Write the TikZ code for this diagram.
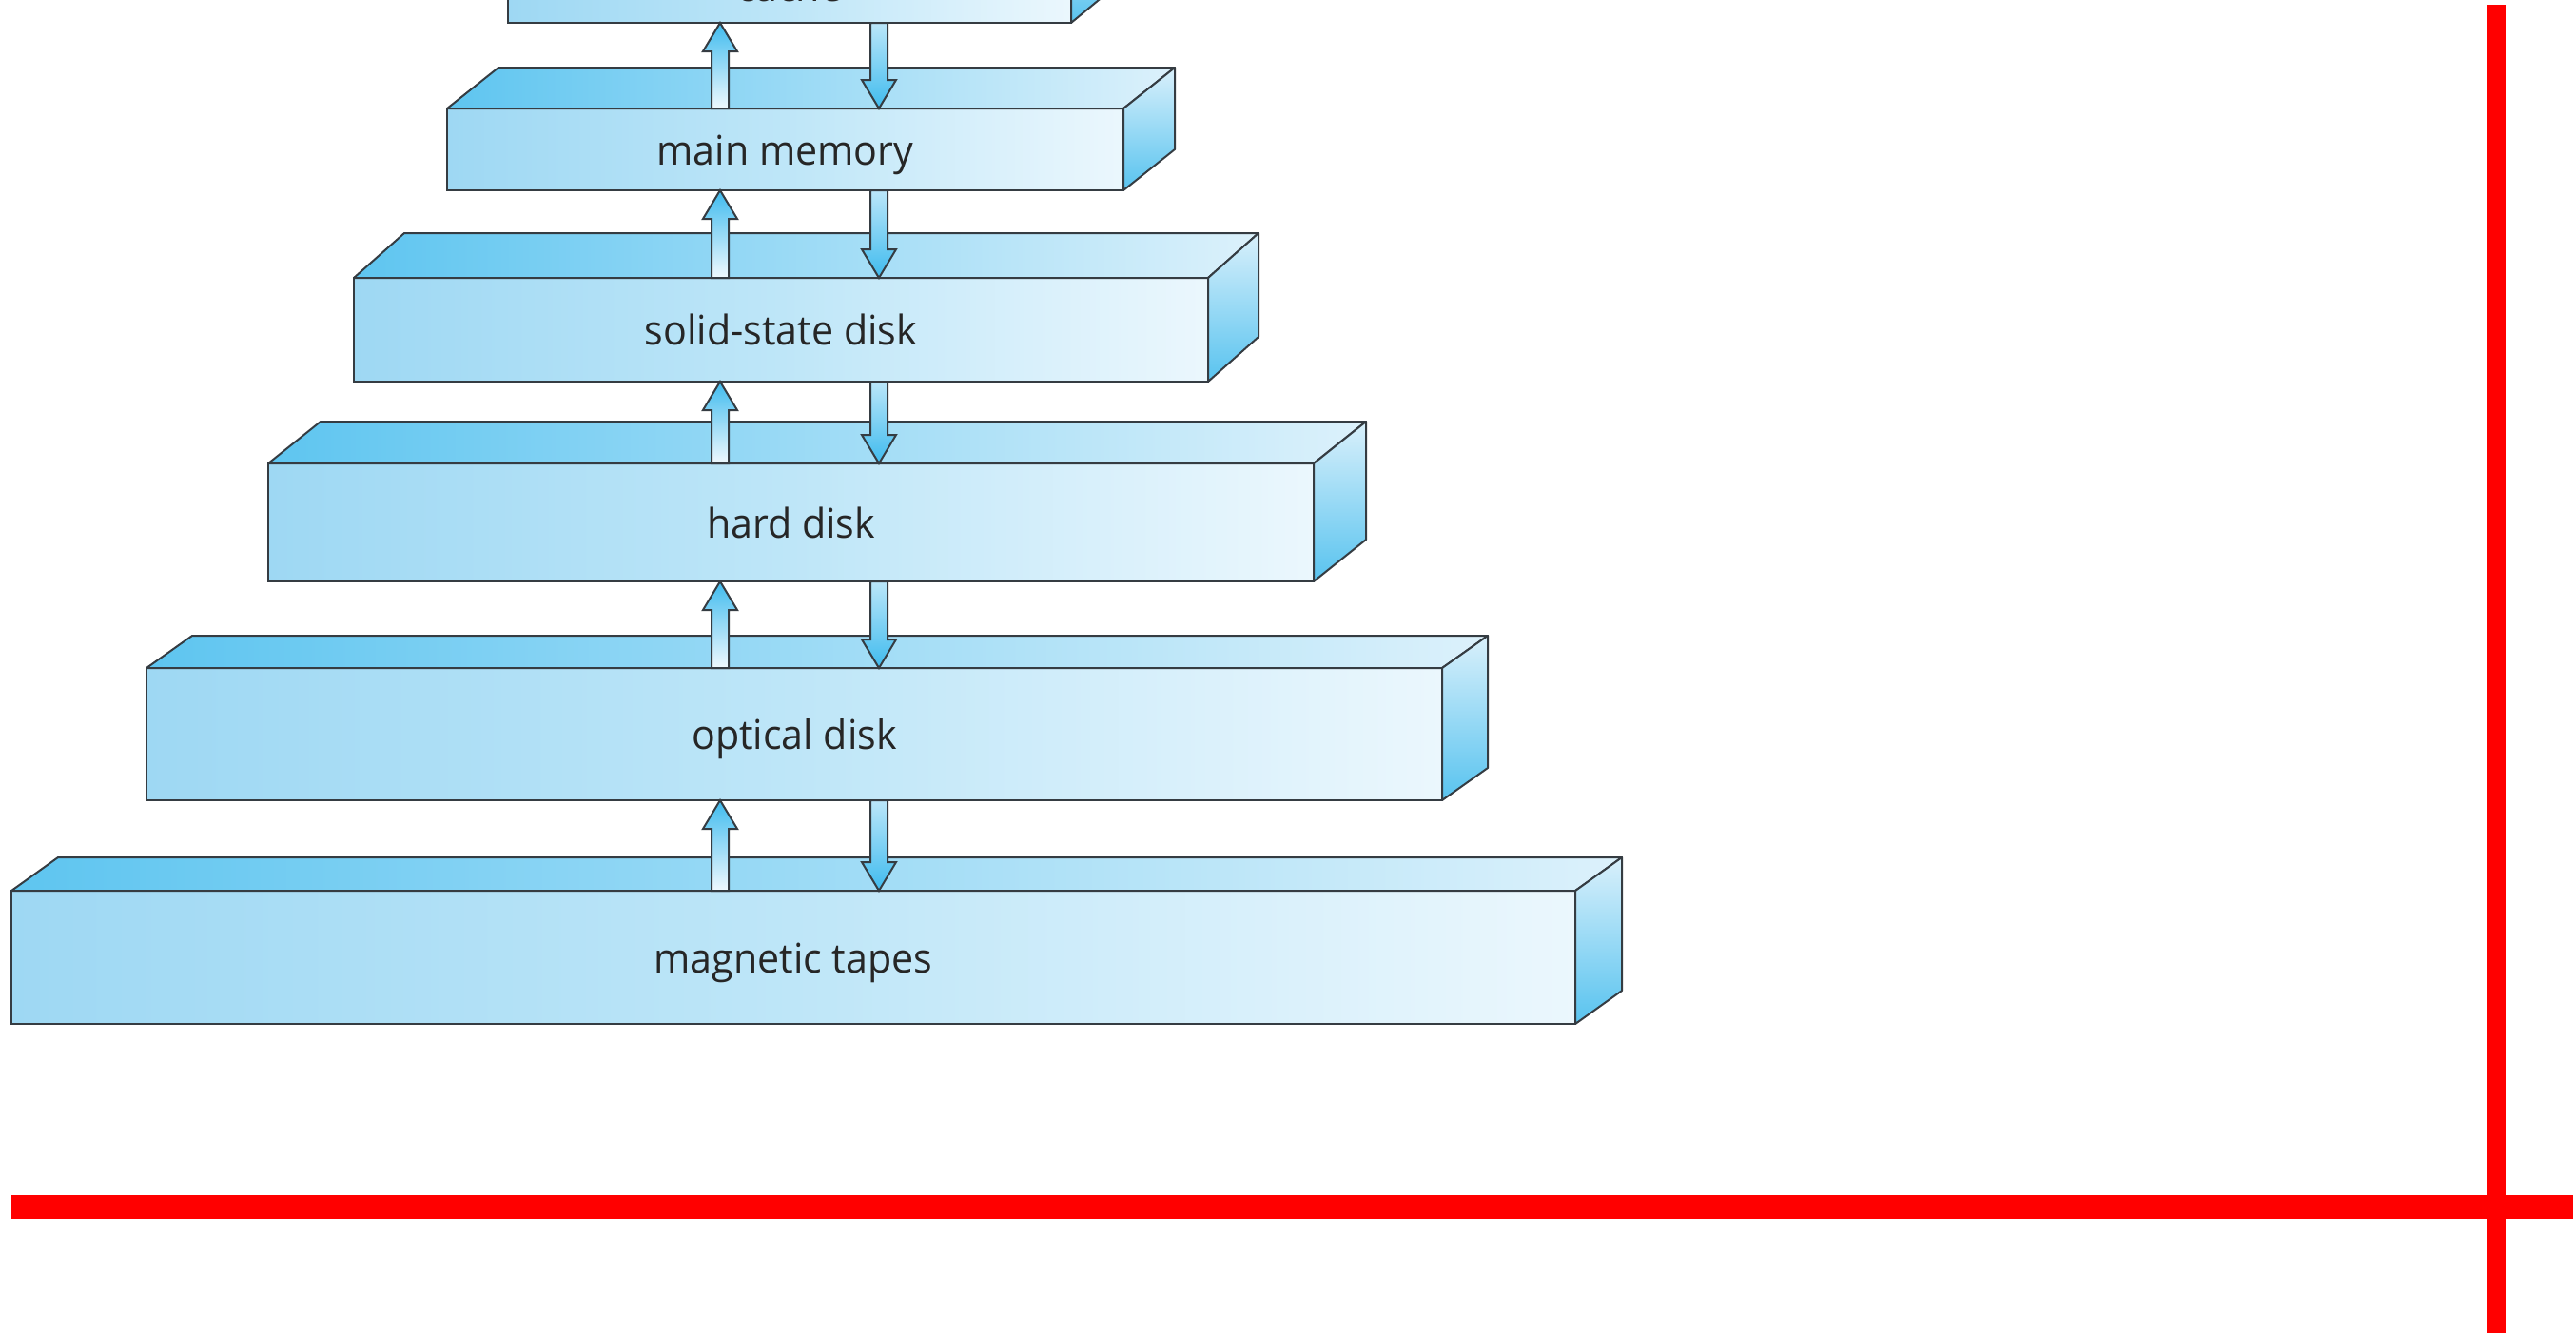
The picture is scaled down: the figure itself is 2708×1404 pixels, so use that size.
\documentclass[tikz,border=0pt]{standalone}
\usepackage{fontspec}
\setmainfont{Open Sans}[FakeStretch=0.96]
\usetikzlibrary{positioning,calc}

\definecolor{frontL}{HTML}{9ED8F3}
\definecolor{frontM}{HTML}{BEE6F8}
\definecolor{frontR}{HTML}{EBF7FD}
\definecolor{topL}{HTML}{5EC5F0}
\definecolor{topR}{HTML}{DCF1FB}
\definecolor{sideT}{HTML}{D9F0FB}
\definecolor{sideB}{HTML}{58C3EF}
\definecolor{arrowTip}{HTML}{3FBBEE}
\definecolor{arrowBase}{HTML}{F0F9FE}
\definecolor{edge}{HTML}{353C42}
\definecolor{marker}{HTML}{FF0000}

\begin{document}
\begin{tikzpicture}[x=0.1mm,y=-0.1mm,
  front/.style={draw=edge, line width=0.2mm, inner sep=0pt, outer sep=0pt,
    left color=frontL, right color=frontR, middle color=frontM,
    text=black!85, font=\fontsize{12.2}{14}\selectfont,
    text height=0.96em, text depth=0.04em},
  topface/.style={draw=edge, line width=0.2mm, line join=round, left color=topL, right color=topR},
  sideface/.style={draw=edge, line width=0.2mm, line join=round, top color=sideT, bottom color=sideB},
  uparrow/.style={draw=edge, line width=0.2mm, top color=arrowTip, bottom color=arrowBase},
  downarrow/.style={draw=edge, line width=0.2mm, top color=arrowBase!70!arrowTip, bottom color=arrowTip}]

  \useasboundingbox (0,0) rectangle (2708,1404);
  \clip (0,0) rectangle (2708,1404);

  % Set up the levels (front faces)
  \node[front, minimum width=59.2mm, minimum height=7.8mm] (cache) at (830,-15) {cache};
  \node[front, minimum width=71.1mm, minimum height=8.6mm] (mem) at (825.5,157) {main memory};
  \node[front, minimum width=89.8mm, minimum height=10.9mm] (ssd) at (821,346.5) {solid-state disk};
  \node[front, minimum width=109.9mm, minimum height=12.4mm] (hdd) at (831.5,549) {hard disk};
  \node[front, minimum width=136.2mm, minimum height=13.9mm] (optical) at (835,771.5) {optical disk};
  \node[front, minimum width=164.4mm, minimum height=14mm] (tape) at (834,1006) {magnetic tapes};

  % Top and side faces
  \foreach \b/\dx/\dy in {cache/52/43, mem/54/43, ssd/53/47, hdd/55/44, optical/48/34, tape/49/35} {
    \draw[topface] (\b.north west) -- ++(\dx,-\dy) -- ($(\b.north east)+(\dx,-\dy)$) -- (\b.north east) -- cycle;
    \draw[sideface] (\b.north east) -- ++(\dx,-\dy) -- ($(\b.south east)+(\dx,-\dy)$) -- (\b.south east) -- cycle;
  }

  % Transfer arrows between neighbouring levels
  \coordinate (upx) at (757,0);
  \coordinate (downx) at (924,0);
  \foreach \lo/\hi in {mem/cache, ssd/mem, hdd/ssd, optical/hdd, tape/optical} {
    \draw[uparrow] ($(\lo.north -| upx)+(-9,0)$) -- ($(\hi.south -| upx)+(-9,30)$) -- ++(-9,0)
      -- (\hi.south -| upx) -- ($(\hi.south -| upx)+(18,30)$) -- ++(-9,0) -- ($(\lo.north -| upx)+(9,0)$) -- cycle;
    \draw[downarrow] ($(\hi.south -| downx)+(-9,0)$) -- ($(\lo.north -| downx)+(-9,-30)$) -- ++(-9,0)
      -- (\lo.north -| downx) -- ($(\lo.north -| downx)+(18,-30)$) -- ++(-9,0) -- ($(\hi.south -| downx)+(9,0)$) -- cycle;
  }

  % Red markers
  \fill[marker] (2614,5) rectangle (2634,1401);
  \fill[marker] (12,1256) rectangle (2705,1281);

\end{tikzpicture}
\end{document}
